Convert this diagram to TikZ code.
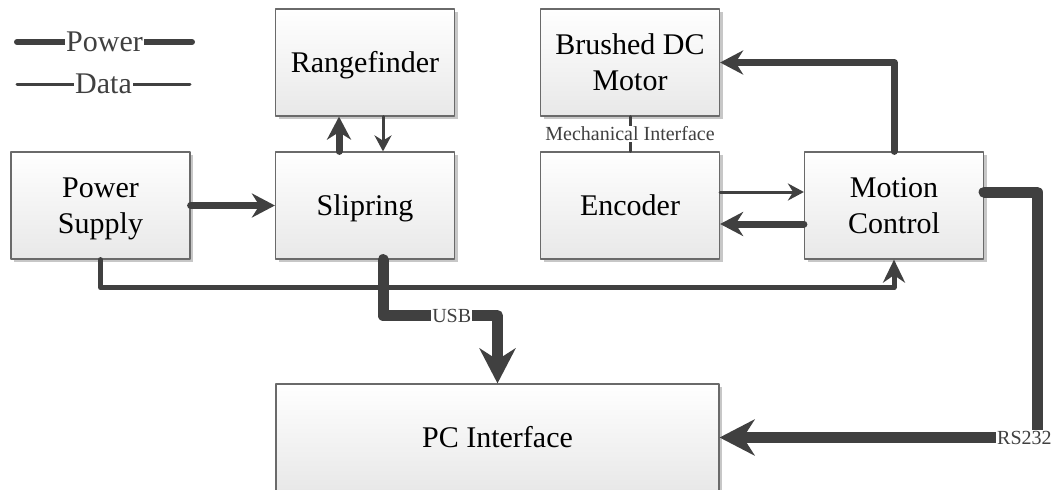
\documentclass[tikz,border=0pt]{standalone}
\usepackage{fontspec}
\setmainfont{Liberation Serif}
\usetikzlibrary{arrows.meta,shadows}
\definecolor{wire}{HTML}{404040}
\definecolor{frame}{HTML}{6A6A6A}
\newcommand\highstrut{\rule{0pt}{27.5pt}}
\newcommand\lowstrut{\rule[-6pt]{0pt}{0pt}}
\begin{document}
\begin{tikzpicture}[x=1pt,y=-1pt,line join=round,line cap=round,
	block/.style={draw=frame,line width=1.2pt,top color=white,bottom color=black!9,
		minimum width=179pt,minimum height=107pt,align=center,inner sep=0pt,
		font=\fontsize{30}{36}\selectfont,
		execute at begin node={\rule[-7pt]{0pt}{33.5pt}},
		drop shadow={shadow xshift=3pt,shadow yshift=-3pt,fill=black!22,opacity=1}},
	tag/.style={fill=white,inner sep=1pt,font=\fontsize{20}{22}\selectfont},
	data/.style={wire,line width=3pt,-{Stealth[length=16pt,width=17pt]}},
	power/.style={wire,line width=7pt,-{Stealth[length=23pt,width=24pt]}},
	feed/.style={wire,line width=5pt,-{Stealth[length=23pt,width=22pt]}},
	bus/.style={wire,line width=11pt,-{Stealth[length=35pt,width=36pt]}}]
	\useasboundingbox (0,0) rectangle (1061,490);
	% blocks
	\path
	(365,62.5) node[block] (range) {Rangefinder}
	(630,62.5) node[block] (motor) {\highstrut Brushed DC\\Motor\lowstrut}
	(100.5,205.5) node[block] (psu) {\highstrut Power\\Supply\lowstrut}
	(365,205.5) node[block] (slip) {Slipring}
	(630,205.5) node[block] (enc) {Encoder}
	(894,205.5) node[block] (motion) {\highstrut Motion\\Control\lowstrut}
	(497.5,437.5) node[block,minimum width=443pt] (pc) {PC Interface}
	;
	% legend
	\path
	(17,42) coordinate (p1)
	(192,42) coordinate (p2)
	(17,84) coordinate (d1)
	(190,84) coordinate (d2)
	;
	\draw[wire,line width=6pt] (p1) -- node[tag,font=\fontsize{30}{36}\selectfont] {Power} (p2);
	\draw[wire,line width=3pt] (d1) -- node[tag,font=\fontsize{30}{36}\selectfont] {Data} (d2);
	% links
	\draw[power] ([xshift=-26pt]slip.north) -- ([xshift=-26pt]range.south);
	\draw[data] ([xshift=18pt]range.south) -- ([xshift=18pt]slip.north);
	\draw[power] (psu) -- (slip);
	\draw[feed] (psu.south) -- ++(0,28) -| (motion.south);
	\draw[bus] ([xshift=18pt]slip.south) -- ++(0,56) -| node[tag,pos=0.3] {USB} (pc.north);
	\draw[power] (motion.north) |- (motor.east);
	\draw[data] ([yshift=13.5pt]enc.east) -- ([yshift=13.5pt]motion.west);
	\draw[power] ([yshift=-18.5pt]motion.west) -- ([yshift=-18.5pt]enc.east);
	\draw[bus] ([yshift=13.5pt]motion.east) -- ++(53,0) |- node[tag,pos=0.52] {RS232} (pc.east);
	\draw[wire,line width=3pt] (motor) -- node[tag] {Mechanical Interface} (enc);
\end{tikzpicture}
\end{document}
